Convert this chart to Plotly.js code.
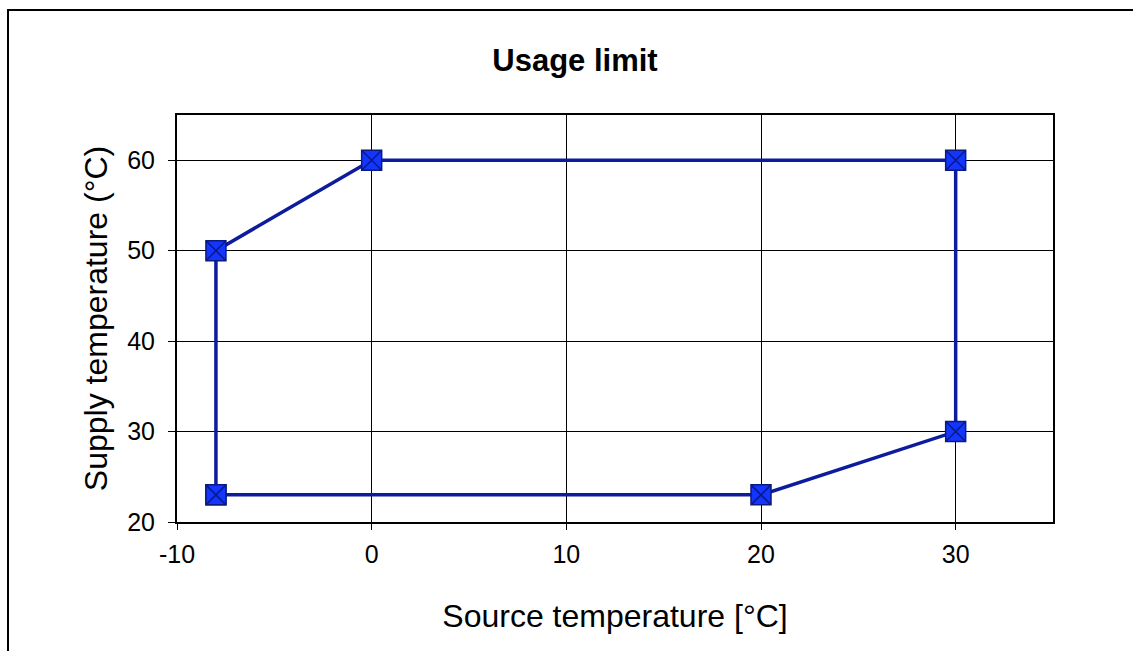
<!DOCTYPE html>
<html><head><meta charset="utf-8">
<script src="https://cdn.plot.ly/plotly-3.0.1.min.js"></script>
<style>
html,body{margin:0;padding:0;background:#fff;overflow:hidden;}
#frame{position:absolute;left:7px;top:9px;width:1200px;height:700px;border-left:2px solid #000;border-top:2px solid #000;}
#chart{position:absolute;left:0;top:0;width:1133px;height:651px;}
</style>
</head><body>
<div id="frame"></div>
<div id="chart"></div>
<script>
const sourceTemp = [-8, -8, 0, 30, 30, 20, -8];
const supplyTemp = [23, 50, 60, 60, 30, 23, 23];
const xTickVals = [-10, 0, 10, 20, 30];
const xTickText = ['-10', '0', '10', '20', '30'];
const yTickVals = [20, 30, 40, 50, 60];

const trace = {
  x: sourceTemp, y: supplyTemp, type: 'scatter', mode: 'lines+markers',
  line: {color: '#0c1c9c', width: 3.5},
  marker: {symbol: 'square-x', size: 20, color: '#1236ff', line: {color: '#0a1a80', width: 1.5}},
  hoverinfo: 'none'
};
const font = {family: 'Liberation Sans, Arial, sans-serif', color: '#000'};
const layout = {
  width: 1133, height: 651,
  margin: {l: 177, r: 80, t: 115, b: 129},
  paper_bgcolor: 'rgba(0,0,0,0)', plot_bgcolor: '#fff',
  showlegend: false,
  font: Object.assign({size: 25}, font),
  title: {text: '<b>Usage limit</b>', font: Object.assign({size: 31}, font), x: 0.5075, xanchor: 'center', y: 0.908, yanchor: 'middle'},
  xaxis: {
    range: [-10, 35], tickvals: xTickVals, ticktext: xTickText,
    showgrid: true, gridcolor: '#000', gridwidth: 1,
    showline: true, linecolor: '#000', linewidth: 2, mirror: true,
    ticks: 'outside', ticklen: 6, tickcolor: '#000', tickwidth: 1,
    ticklabelstandoff: 3,
    zeroline: false, tickfont: Object.assign({size: 25}, font),
    title: {text: 'Source temperature [°C]', font: Object.assign({size: 32}, font), standoff: 38}
  },
  yaxis: {
    range: [20, 65], tickvals: yTickVals,
    showgrid: true, gridcolor: '#000', gridwidth: 1,
    showline: true, linecolor: '#000', linewidth: 2, mirror: true,
    ticks: 'outside', ticklen: 7, tickcolor: '#000', tickwidth: 1,
    ticklabelstandoff: 8,
    zeroline: false, tickfont: Object.assign({size: 25}, font),
    title: {text: 'Supply temperature (°C)', font: Object.assign({size: 32}, font), standoff: 10}
  }
};
Plotly.newPlot('chart', [trace], layout, {staticPlot: true, displayModeBar: false});
</script>
</body></html>
